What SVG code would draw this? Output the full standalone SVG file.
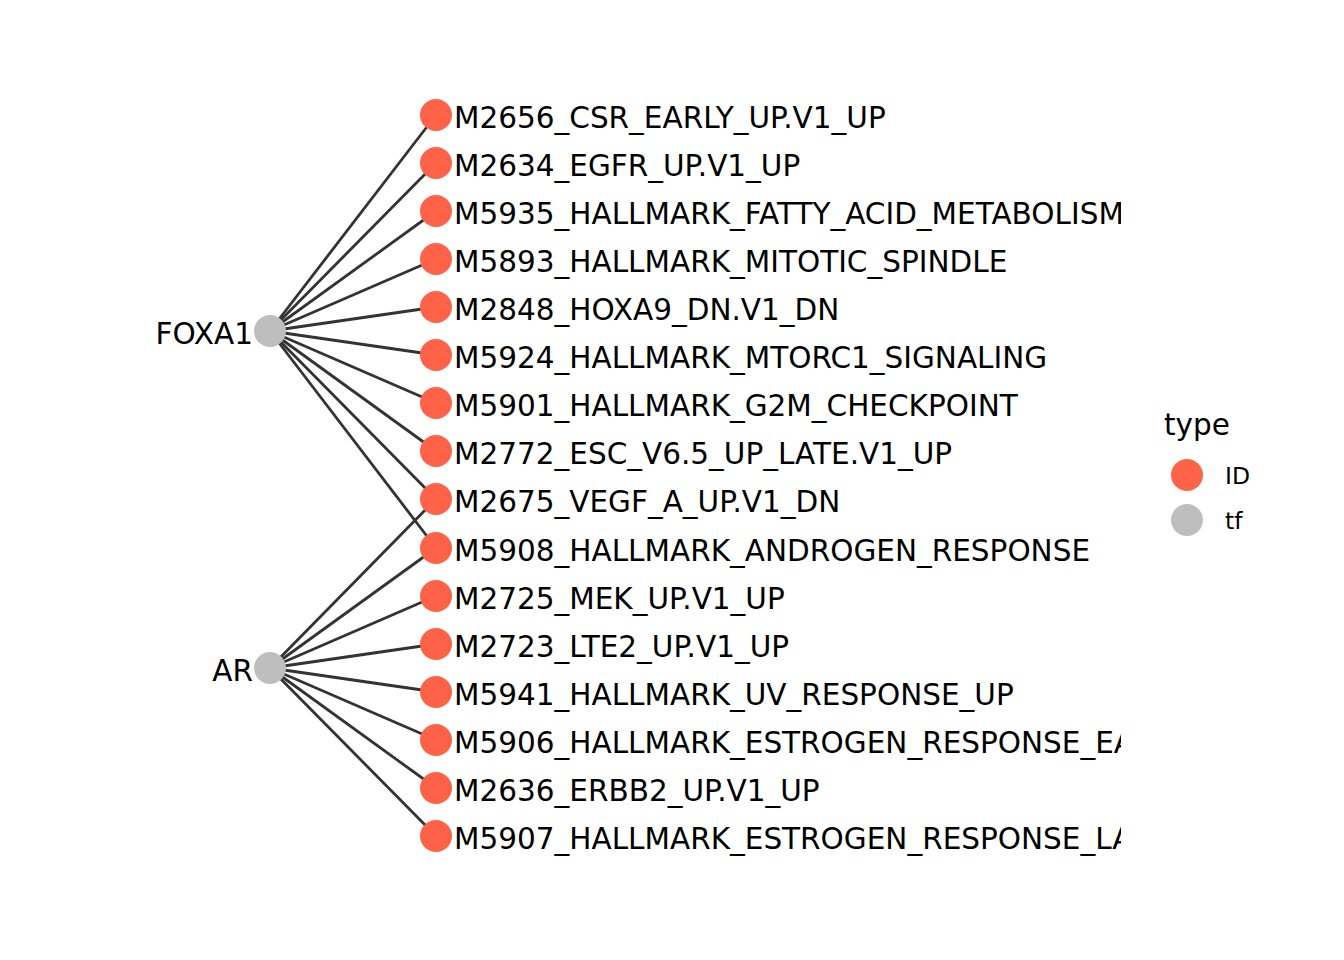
<svg xmlns="http://www.w3.org/2000/svg" width="1344" height="960" viewBox="0 0 1344 960">
<defs>
<style>
.e{stroke:#333333;stroke-width:2.8;fill:none}
.id{fill:#FF6347}
.tf{fill:#BEBEBE}
.lbl{font-family:"DejaVu Sans",sans-serif;font-size:29.5px;fill:#000}
.lg{font-family:"DejaVu Sans",sans-serif;font-size:23.5px;fill:#000}
</style>
<clipPath id="clip"><rect x="0" y="0" width="1121" height="960"/></clipPath>
</defs>
<rect width="1344" height="960" fill="#fff"/>
<g id="connectors">
<line class="e" x1="270" y1="331" x2="436" y2="115"/>
<line class="e" x1="270" y1="331" x2="436" y2="163"/>
<line class="e" x1="270" y1="331" x2="436" y2="211"/>
<line class="e" x1="270" y1="331" x2="436" y2="259"/>
<line class="e" x1="270" y1="331" x2="436" y2="307"/>
<line class="e" x1="270" y1="331" x2="436" y2="355"/>
<line class="e" x1="270" y1="331" x2="436" y2="403"/>
<line class="e" x1="270" y1="331" x2="436" y2="451"/>
<line class="e" x1="270" y1="331" x2="436" y2="499"/>
<line class="e" x1="270" y1="331" x2="436" y2="548"/>
<line class="e" x1="270" y1="668" x2="436" y2="499"/>
<line class="e" x1="270" y1="668" x2="436" y2="548"/>
<line class="e" x1="270" y1="668" x2="436" y2="596"/>
<line class="e" x1="270" y1="668" x2="436" y2="644"/>
<line class="e" x1="270" y1="668" x2="436" y2="692"/>
<line class="e" x1="270" y1="668" x2="436" y2="740"/>
<line class="e" x1="270" y1="668" x2="436" y2="788"/>
<line class="e" x1="270" y1="668" x2="436" y2="836"/>
</g>
<g id="FOXA1"><circle class="tf" cx="270" cy="331" r="16"/><text class="lbl" x="253" y="344" text-anchor="end">FOXA1</text></g>
<g id="AR"><circle class="tf" cx="270" cy="668" r="16"/><text class="lbl" x="253" y="681" text-anchor="end">AR</text></g>
<g clip-path="url(#clip)">
<g id="n1"><circle class="id" cx="436" cy="115" r="16"/><text class="lbl" x="454" y="128">M2656_CSR_EARLY_UP.V1_UP</text></g>
<g id="n2"><circle class="id" cx="436" cy="163" r="16"/><text class="lbl" x="454" y="176">M2634_EGFR_UP.V1_UP</text></g>
<g id="n3"><circle class="id" cx="436" cy="211" r="16"/><text class="lbl" x="454" y="224">M5935_HALLMARK_FATTY_ACID_METABOLISM</text></g>
<g id="n4"><circle class="id" cx="436" cy="259" r="16"/><text class="lbl" x="454" y="272">M5893_HALLMARK_MITOTIC_SPINDLE</text></g>
<g id="n5"><circle class="id" cx="436" cy="307" r="16"/><text class="lbl" x="454" y="320">M2848_HOXA9_DN.V1_DN</text></g>
<g id="n6"><circle class="id" cx="436" cy="355" r="16"/><text class="lbl" x="454" y="368">M5924_HALLMARK_MTORC1_SIGNALING</text></g>
<g id="n7"><circle class="id" cx="436" cy="403" r="16"/><text class="lbl" x="454" y="416">M5901_HALLMARK_G2M_CHECKPOINT</text></g>
<g id="n8"><circle class="id" cx="436" cy="451" r="16"/><text class="lbl" x="454" y="464">M2772_ESC_V6.5_UP_LATE.V1_UP</text></g>
<g id="n9"><circle class="id" cx="436" cy="499" r="16"/><text class="lbl" x="454" y="512">M2675_VEGF_A_UP.V1_DN</text></g>
<g id="n10"><circle class="id" cx="436" cy="548" r="16"/><text class="lbl" x="454" y="561">M5908_HALLMARK_ANDROGEN_RESPONSE</text></g>
<g id="n11"><circle class="id" cx="436" cy="596" r="16"/><text class="lbl" x="454" y="609">M2725_MEK_UP.V1_UP</text></g>
<g id="n12"><circle class="id" cx="436" cy="644" r="16"/><text class="lbl" x="454" y="657">M2723_LTE2_UP.V1_UP</text></g>
<g id="n13"><circle class="id" cx="436" cy="692" r="16"/><text class="lbl" x="454" y="705">M5941_HALLMARK_UV_RESPONSE_UP</text></g>
<g id="n14"><circle class="id" cx="436" cy="740" r="16"/><text class="lbl" x="454" y="753">M5906_HALLMARK_ESTROGEN_RESPONSE_EARLY</text></g>
<g id="n15"><circle class="id" cx="436" cy="788" r="16"/><text class="lbl" x="454" y="801">M2636_ERBB2_UP.V1_UP</text></g>
<g id="n16"><circle class="id" cx="436" cy="836" r="16"/><text class="lbl" x="454" y="849">M5907_HALLMARK_ESTROGEN_RESPONSE_LATE</text></g>
</g>
<g id="legend">
<text class="lbl" x="1164" y="435">type</text>
<circle class="id" cx="1187" cy="475" r="16"/>
<text class="lg" x="1225" y="484">ID</text>
<circle class="tf" cx="1187" cy="520" r="16"/>
<text class="lg" x="1225" y="529">tf</text>
</g>
</svg>
